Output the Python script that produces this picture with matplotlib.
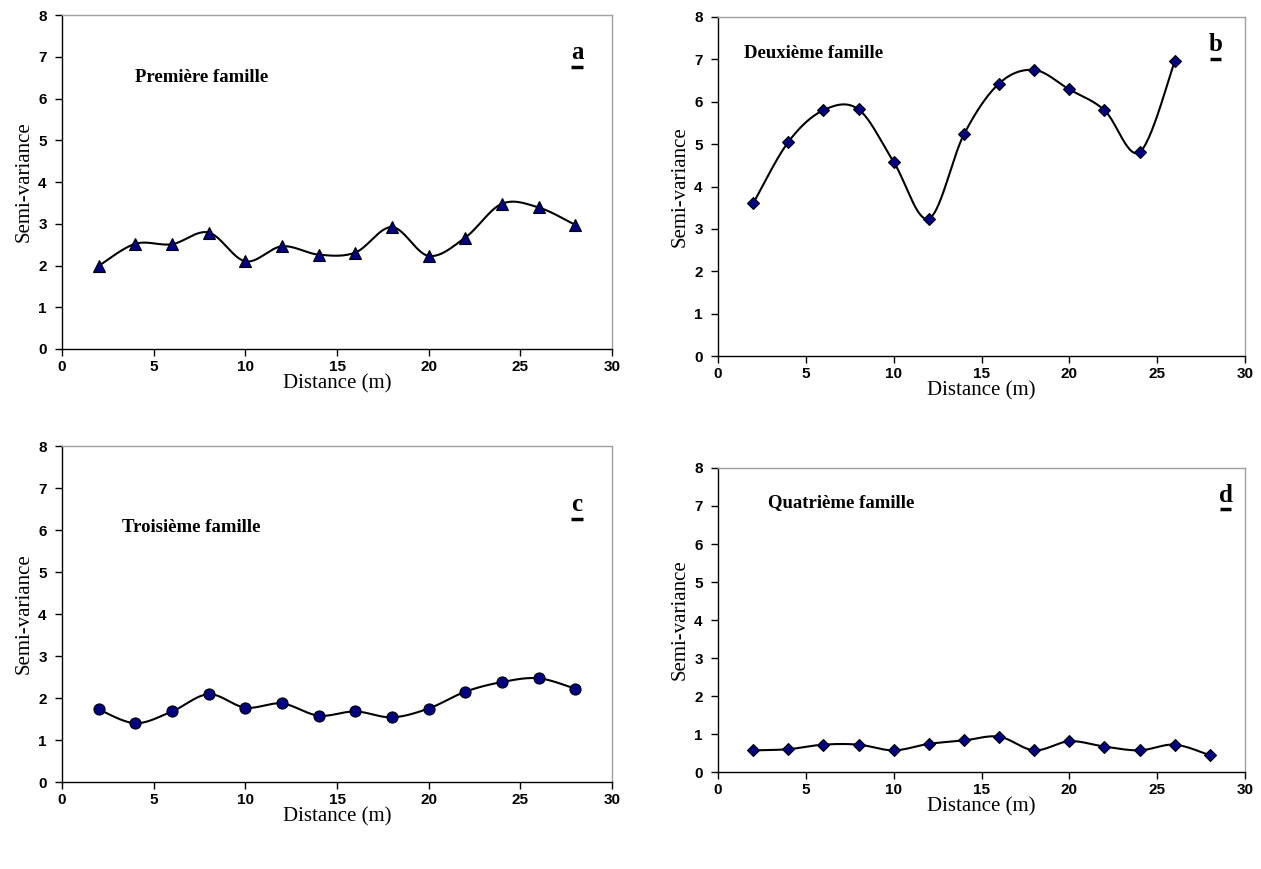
import numpy as np
import matplotlib
matplotlib.use("Agg")
import matplotlib.pyplot as plt

W, H = 1261, 869

# distances (m)
dist = [2, 4, 6, 8, 10, 12, 14, 16, 18, 20, 22, 24, 26, 28]
dist_b = [2, 4, 6, 8, 10, 12, 14, 16, 18, 20, 22, 24, 26]

# semi-variances
fam1 = [1.99, 2.52, 2.51, 2.79, 2.10, 2.46, 2.26, 2.31, 2.92, 2.23, 2.67, 3.48, 3.39, 2.97]
fam2 = [3.60, 5.05, 5.80, 5.82, 4.58, 3.24, 5.23, 6.43, 6.75, 6.29, 5.80, 4.81, 6.95]
fam3 = [1.73, 1.40, 1.68, 2.09, 1.77, 1.87, 1.58, 1.68, 1.54, 1.75, 2.15, 2.38, 2.47, 2.22]
fam4 = [0.57, 0.60, 0.72, 0.72, 0.57, 0.74, 0.83, 0.93, 0.57, 0.81, 0.67, 0.57, 0.72, 0.44]

titles = ['Première famille', 'Deuxième famille', 'Troisième famille', 'Quatrième famille']
letters = ['a', 'b', 'c', 'd']

plt.rcParams['font.family'] = ['Liberation Sans', 'DejaVu Sans']


def smooth(x, y, n=30):
    # excel-like smoothed line (bezier with control points at 1/6 of neighbour spread)
    x = np.asarray(x, float); y = np.asarray(y, float)
    px = np.concatenate([[x[0]], x, [x[-1]]])
    py = np.concatenate([[y[0]], y, [y[-1]]])
    t = np.linspace(0, 1, n)[:, None]
    xs, ys = [], []
    for i in range(1, len(px) - 2):
        p0 = np.array([px[i], py[i]])
        p3 = np.array([px[i + 1], py[i + 1]])
        p1 = p0 + (np.array([px[i + 1], py[i + 1]]) - np.array([px[i - 1], py[i - 1]])) / 6
        p2 = p3 - (np.array([px[i + 2], py[i + 2]]) - np.array([px[i], py[i]])) / 6
        b = (1 - t)**3 * p0 + 3 * (1 - t)**2 * t * p1 + 3 * (1 - t) * t**2 * p2 + t**3 * p3
        xs.append(b[:, 0]); ys.append(b[:, 1])
    return np.concatenate(xs), np.concatenate(ys)


fig = plt.figure(figsize=(W / 100, H / 100), dpi=100)

# panel boxes in pixels: left, right, top(8), bottom(0)
boxes = [(62, 612, 15, 349), (718, 1245, 17, 356), (62, 612, 446, 782), (718, 1245, 468, 772)]
series = [(dist, fam1, '^', 9), (dist_b, fam2, 'D', 6.5), (dist, fam3, 'o', 8), (dist, fam4, 'D', 6.5)]
title_pos = [(4.0, 6.5), (1.5, 7.15), (3.3, 6.05), (2.85, 7.08)]
letter_pos = [(28.1, 6.95), (28.3, 7.2), (28.1, 6.46), (28.9, 7.11)]   # baseline of the letter

for k in range(4):
    l, r, t, b = boxes[k]
    ax = fig.add_axes([l / W, 1 - b / H, (r - l) / W, (b - t) / H])
    x, y, mk, ms = series[k]
    sx, sy = smooth(x, y)
    ax.plot(sx, sy, color='black', lw=1.5, zorder=2)
    ax.plot(x, y, ls='none', marker=mk, ms=ms, mfc='#000080', mec='black', mew=0.8, zorder=3, clip_on=False)
    ax.set_xlim(0, 30)
    ax.set_ylim(0, 8)
    ax.set_xticks(range(0, 31, 5))
    ax.set_yticks(range(0, 9))
    ax.tick_params(direction='out', length=5, width=1, labelsize=11)
    ax.tick_params(axis='x', pad=3)
    ax.tick_params(axis='y', pad=6)
    for lab in ax.get_xticklabels() + ax.get_yticklabels():
        lab.set_fontweight('bold')
    ax.spines['left'].set_color('black')
    ax.spines['bottom'].set_color('black')
    ax.spines['top'].set_color('#a0a0a0')
    ax.spines['right'].set_color('#a0a0a0')
    for s in ax.spines.values():
        s.set_linewidth(1)
    ax.set_xlabel('Distance (m)', family='Liberation Serif', fontsize=15, labelpad=0)
    ax.set_ylabel('Semi-variance', family='Liberation Serif', fontsize=15, labelpad=3)
    tx, ty = title_pos[k]
    ax.text(tx, ty, titles[k], family='Liberation Serif', fontweight='bold', fontsize=13.5, va='center', ha='left')
    lx, ly = letter_pos[k]
    ax.text(lx, ly, letters[k], family='Liberation Serif', fontweight='bold', fontsize=18, va='baseline', ha='center')
    # underline under the panel letter
    ax.plot([lx - 0.32, lx + 0.32], [ly - 0.19, ly - 0.19], color='black', lw=2.5, solid_capstyle='butt')

fig.savefig('out.png', dpi=100)
